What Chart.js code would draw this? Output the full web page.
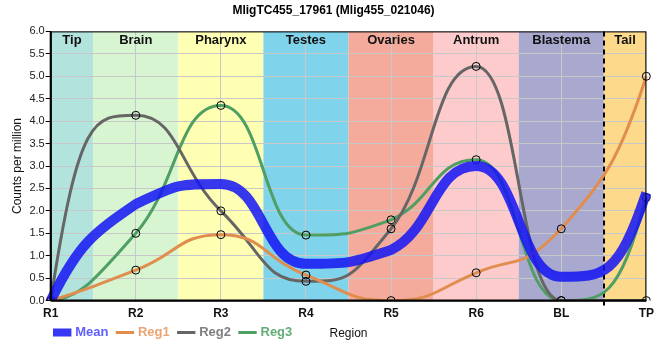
<!DOCTYPE html>
<html><head><meta charset="utf-8">
<script src="https://cdn.jsdelivr.net/npm/chart.js@4"></script>
<style>html,body{margin:0;padding:0;background:#fff}#wrap{width:660px;height:360px}</style>
</head><body><div id="wrap"><canvas id="c" width="660" height="360"></canvas></div>
<script>
const categories = ["R1","R2","R3","R4","R5","R6","BL","TP"];
const meanValues = [0, 2.15, 2.6, 0.82, 1.13, 3.0, 0.53, 2.4];
const reg1Values = [0, 0.68, 1.47, 0.57, 0, 0.62, 1.6, 5.0];
const reg2Values = [0, 4.13, 2.0, 0.43, 1.6, 5.22, 0, 0];
const reg3Values = [0, 1.5, 4.35, 1.46, 1.8, 3.14, 0, 2.3];
const regionNames = ["Tip","Brain","Pharynx","Testes","Ovaries","Antrum","Blastema","Tail"];
const regionStarts = [0, 0.5, 1.5, 2.5, 3.5, 4.5, 5.5, 6.5];
const regionEnds   = [0.5, 1.5, 2.5, 3.5, 4.5, 5.5, 6.5, 7];
const regionColors = ["#b3e3dd","#d7f5d0","#ffffb4","#7fd3eb","#f5ab9b","#fdcbcc","#a9a9cf","#fdd98c"];
const yTicks = [0,0.5,1,1.5,2,2.5,3,3.5,4,4.5,5,5.5,6];

const legendColors = ["#5f5fff","#eba474","#7f7f7f","#62ad78"];
const legendLineWidths = [8, 3, 3, 3];
const FONT = "'Liberation Sans', Arial, sans-serif";
const HANDLE_SCALE = 1.5;

function clamp(v, a, b){ const lo = Math.min(a,b), hi = Math.max(a,b); return Math.max(lo, Math.min(hi, v)); }

function adjustEnd(end, nb, isStart){
  const dx = nb.x - end.x;
  if (!dx) return;
  const d = (nb.y - end.y) / dx;
  const cx = isStart ? nb.cp1x : nb.cp2x;
  const cy = isStart ? nb.cp1y : nb.cp2y;
  const m1 = (nb.x - cx) !== 0 ? (nb.y - cy) / (nb.x - cx) : 0;
  let m0 = 3 * d - 2 * m1;
  if (d === 0 || Math.sign(m0) !== Math.sign(d)) m0 = 0;
  if (Math.abs(m0) > 3 * Math.abs(d)) m0 = 3 * d;
  const h = dx / 3;
  if (isStart) { end.cp2x = end.x + h; end.cp2y = end.y + m0 * h; }
  else { end.cp1x = end.x + h; end.cp1y = end.y + m0 * h; }
}

const curvePlugin = {
  id: 'curveShape',
  beforeDatasetsDraw(chart){
    chart.getSortedVisibleDatasetMetas().forEach(meta => {
      if (meta.type !== 'line') return;
      const line = meta.dataset;
      line.updateControlPoints(chart.chartArea, meta.iScale.axis);
      const pts = line.points;
      const n = pts.length;
      if (n < 3) return;
      adjustEnd(pts[0], pts[1], true);
      adjustEnd(pts[n-1], pts[n-2], false);
      for (let i = 1; i < n - 1; i++) {
        const p = pts[i], a = pts[i-1], b = pts[i+1];
        p.cp1x = p.x - HANDLE_SCALE * (p.x - p.cp1x);
        p.cp1y = clamp(p.y - HANDLE_SCALE * (p.y - p.cp1y), p.y, a.y);
        p.cp2x = p.x + HANDLE_SCALE * (p.cp2x - p.x);
        p.cp2y = clamp(p.y + HANDLE_SCALE * (p.cp2y - p.y), p.y, b.y);
      }
    });
  }
};

const bandPlugin = {
  id: 'bands',
  afterLayout(chart){
    const lg = chart.legend;
    if (lg) { lg.left -= 5; lg.right -= 5; lg.top -= 11; lg.bottom -= 11; }
  },
  beforeDraw(chart){
    const {ctx, chartArea:a, scales:{x}} = chart;
    ctx.save();
    for (let i=0;i<regionNames.length;i++){
      const x0 = x.getPixelForValue(regionStarts[i]);
      const x1 = x.getPixelForValue(regionEnds[i]);
      ctx.fillStyle = regionColors[i];
      ctx.fillRect(x0, a.top, x1-x0, a.bottom-a.top);
    }
    ctx.restore();
  },
  beforeDatasetsDraw(chart){
    const {ctx, chartArea:a, scales:{x}} = chart;
    ctx.save();
    ctx.font = "bold 13px " + FONT;
    ctx.fillStyle = "#111";
    ctx.textAlign = "center";
    ctx.textBaseline = "middle";
    for (let i=0;i<regionNames.length;i++){
      const x0 = x.getPixelForValue(regionStarts[i]);
      const x1 = x.getPixelForValue(regionEnds[i]);
      ctx.fillText(regionNames[i], (x0+x1)/2, a.top+9);
    }
    const xd = Math.round(x.getPixelForValue(6.5));
    ctx.strokeStyle = "#000";
    ctx.lineWidth = 2;
    ctx.setLineDash([5,4]);
    ctx.beginPath();
    ctx.moveTo(xd, a.top); ctx.lineTo(xd, a.bottom + 5);
    ctx.stroke();
    ctx.restore();
  },
  afterDraw(chart){
    const {ctx, chartArea:a, legend} = chart;
    ctx.save();
    ctx.strokeStyle = "#000";
    ctx.lineWidth = 1;
    ctx.strokeRect(a.left+0.5, a.top+0.5, a.right-a.left-1, a.bottom-a.top);
    ctx.lineWidth = 2;
    ctx.beginPath(); ctx.moveTo(a.left, a.bottom); ctx.lineTo(a.right, a.bottom); ctx.stroke();
    ctx.beginPath(); ctx.moveTo(a.left, a.top); ctx.lineTo(a.left, a.bottom); ctx.stroke();
    ctx.font = "12px " + FONT;
    ctx.fillStyle = "#111";
    ctx.textAlign = "center";
    ctx.textBaseline = "middle";
    ctx.fillText("Region", (a.left+a.right)/2, legend.top + legend.height/2 + 1);
    ctx.restore();
  }
};

const pointOpts = {pointRadius:4, pointBorderColor:"#000", pointBackgroundColor:"rgba(0,0,0,0)", pointBorderWidth:1, pointHoverRadius:4};

new Chart(document.getElementById('c'), {
  type: 'line',
  data: {
    labels: categories,
    datasets: [
      {label:"Mean", data: meanValues, borderColor:"rgba(20,20,245,0.85)", backgroundColor:"rgba(20,20,245,0.85)", borderWidth:10, pointRadius:0, cubicInterpolationMode:'monotone'},
      Object.assign({label:"Reg1", data: reg1Values, borderColor:"#e08d4e", backgroundColor:"#e08d4e", borderWidth:3, cubicInterpolationMode:'monotone'}, pointOpts),
      Object.assign({label:"Reg2", data: reg2Values, borderColor:"#666666", backgroundColor:"#666666", borderWidth:3, cubicInterpolationMode:'monotone'}, pointOpts),
      Object.assign({label:"Reg3", data: reg3Values, borderColor:"#4f9e64", backgroundColor:"#4f9e64", borderWidth:3, cubicInterpolationMode:'monotone'}, pointOpts)
    ]
  },
  options: {
    responsive: false,
    animation: false,
    layout: {padding: {left: 10, right: 3, top: 0, bottom: 0}},
    plugins: {
      title: {display:true, text:"MligTC455_17961 (Mlig455_021046)", color:"#000",
        font:{family:FONT, size:12, weight:'bold'}, padding:{top:3, bottom:14}},
      legend: {display:true, position:'bottom', align:'start', fullSize:false,
        labels: {usePointStyle:true, pointStyle:'line', boxWidth:15, padding:10,
          font:{family:FONT, size:13, weight:'bold'},
          generateLabels(chart){
            const items = Chart.defaults.plugins.legend.labels.generateLabels(chart);
            items.forEach((it)=>{
              const i = it.datasetIndex;
              const ds = chart.data.datasets[i];
              it.fontColor = legendColors[i];
              it.pointStyle = 'line';
              it.strokeStyle = ds.borderColor;
              it.lineWidth = legendLineWidths[i];
            });
            return items;
          }}},
      tooltip: {enabled:false}
    },
    scales: {
      x: {
        type:'category', offset:false,
        grid: {color:"#c8c8c8", lineWidth:1, drawTicks:false},
        border: {display:false},
        ticks: {color:"#111", padding:6, font:{family:FONT, size:12, weight:'bold'}, maxRotation:0, autoSkip:false},
        title: {display:false}
      },
      y: {
        min:0, max:6,
        afterBuildTicks(scale){ scale.ticks = yTicks.map(v=>({value:v})); },
        grid: {color:"#c8c8c8", lineWidth:1, drawTicks:true, tickLength:5, tickColor:"#000"},
        border: {display:false},
        ticks: {color:"#222", padding:1, font:{family:FONT, size:11},
          callback:(v)=>Number(v).toFixed(1)},
        title: {display:true, text:"Counts per million", color:"#111",
          font:{family:FONT, size:12}, padding:{top:0,bottom:4}}
      }
    }
  },
  plugins:[bandPlugin, curvePlugin]
});
</script></body></html>
